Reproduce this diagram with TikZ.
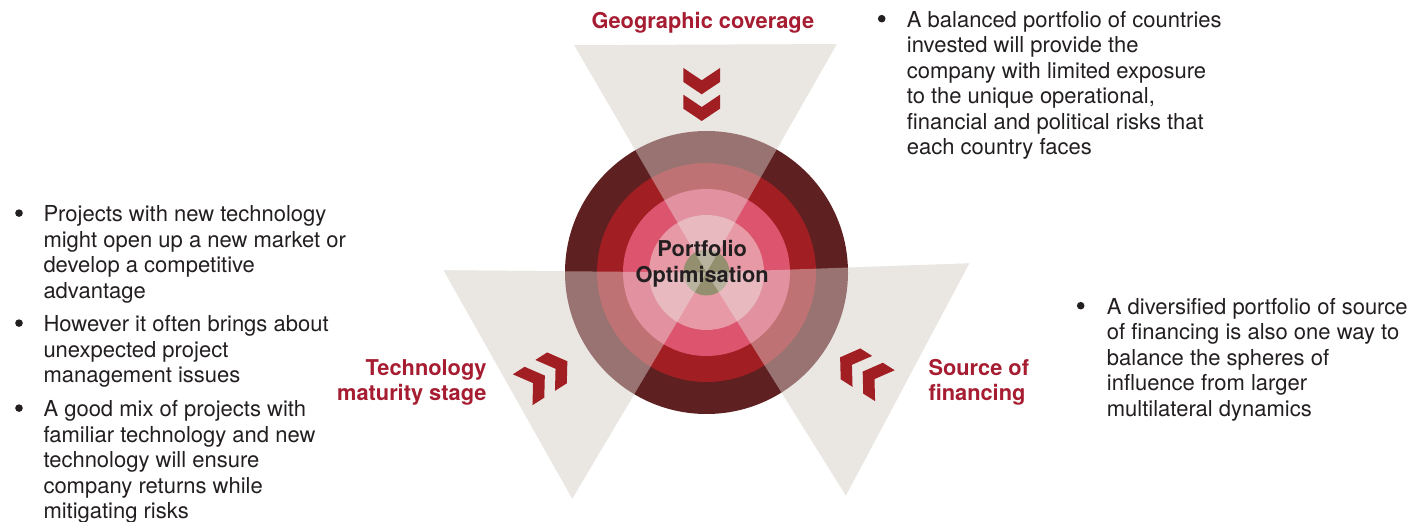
\documentclass[tikz,border=0pt]{standalone}
\usepackage{fontspec}
\setmainfont{TeX Gyre Heros}
\usetikzlibrary{positioning,calc}
\definecolor{ringA}{HTML}{5E2021}
\definecolor{ringB}{HTML}{A11F23}
\definecolor{ringC}{HTML}{DC546E}
\definecolor{ringD}{HTML}{E79AA5}
\definecolor{ringE}{HTML}{948F6E}
\definecolor{wedgegrey}{HTML}{EAE7E3}
\definecolor{chevred}{HTML}{A11F23}
\definecolor{headred}{HTML}{A61C31}
\definecolor{bodygrey}{HTML}{231F20}
\newcommand{\bodyfont}{\fontsize{22}{25.5}\selectfont}
\newcommand{\headfont}{\fontsize{21.8}{25.5}\selectfont\bfseries}
\newcommand{\leftlines}[1]{\parbox[t]{340pt}{\raggedright #1}}
\newcommand{\rightlines}[1]{\parbox[t]{200pt}{\raggedleft #1}}
\newcommand{\midlines}[1]{\parbox[t]{200pt}{\centering #1}}
\tikzset{
  body/.style={anchor=base west,inner sep=0pt,font=\bodyfont,text=bodygrey},
  dot/.style={circle,fill=bodygrey,inner sep=0pt,minimum size=7.6pt,yshift=8.6pt},
  head/.style={inner sep=0pt,font=\headfont,text=headred},
  chevpair/.pic={
    \foreach \t in {26.5,-0.2}
      \fill[chevred] (\t,0) -- ++(-12.3,18.3) -- ++(-14,0) -- ++(12.3,-18.3) -- ++(-12.3,-18.3) -- ++(14,0) -- cycle;}
}
\begin{document}
\begin{tikzpicture}[x=1pt,y=1pt]
\useasboundingbox (0,0) rectangle (1428,522);
\coordinate (c) at (706.5,249.5);
% corners of the three wedges
\coordinate (geoR) at ($(c)+(60.3:263)$);
\coordinate (geoL) at ($(c)+(120.2:263)$);
\coordinate (techT) at ($(c)+(179.5:263)$);
\coordinate (techB) at ($(c)+(239.3:263)$);
\coordinate (finB) at ($(c)+(-58:263)$);
\coordinate (finT) at ($(c)+(2:263)$);
\fill[wedgegrey] (c) -- (geoR) -- (geoL) -- cycle (c) -- (techT) -- (techB) -- cycle (c) -- (finB) -- (finT) -- cycle;
\fill[ringA] (c) circle (141.5);
\fill[ringB] (c) circle (109.5);
\fill[ringC] (c) circle (83.5);
\fill[ringD] (c) circle (57.5);
\fill[ringE] (c) circle (23);
\fill[wedgegrey,opacity=0.42] (c) -- (geoR) -- (geoL) -- cycle (c) -- (techT) -- (techB) -- cycle (c) -- (finB) -- (finT) -- cycle;
\pic[rotate=-90] (geoarrows) at (701.7,427.5) {chevpair};
\pic[rotate=32.5] (techarrows) at (545,146.5) {chevpair};
\pic[rotate=147.6] (finarrows) at (862.5,150.5) {chevpair};
\node[head,anchor=base] (geo) at (702.9,493.7) {Geographic coverage};
\node[head,anchor=base east] (tech) at (486.7,146.7) {\rightlines{Technology\\maturity stage}};
\node[head,anchor=base west] (fin) at (928.3,146.7) {\leftlines{Source of\\financing}};
\node[head,anchor=base,text=bodygrey] (core) at (702.2,265.3) {\midlines{Portfolio\\Optimisation}};
\node[dot] (geodot) at (881.7,494.7) {};
\node[body] (geotext) at (906.7,494.7) {\leftlines{A balanced portfolio of countries\\invested will provide the\\company with limited exposure\\to the unique operational,\\financial and political risks that\\each country faces}};
\node[dot] (techdotA) at (19,300.3) {};
\node[body] (techtextA) at (43.3,300.3) {\leftlines{Projects with new technology\\might open up a new market or\\develop a competitive\\advantage}};
\node[dot] (techdotB) at (19,190.3) {};
\node[body] (techtextB) at (43.3,190.3) {\leftlines{However it often brings about\\unexpected project\\management issues}};
\node[dot] (techdotC) at (19,105.3) {};
\node[body] (techtextC) at (43.3,105.3) {\leftlines{A good mix of projects with\\familiar technology and new\\technology will ensure\\company returns while\\mitigating risks}};
\node[dot] (findot) at (1080.7,207.7) {};
\node[body] (fintext) at (1106.7,207.7) {\leftlines{A diversified portfolio of source\\of financing is also one way to\\balance the spheres of\\influence from larger\\multilateral dynamics}};
\end{tikzpicture}
\end{document}
